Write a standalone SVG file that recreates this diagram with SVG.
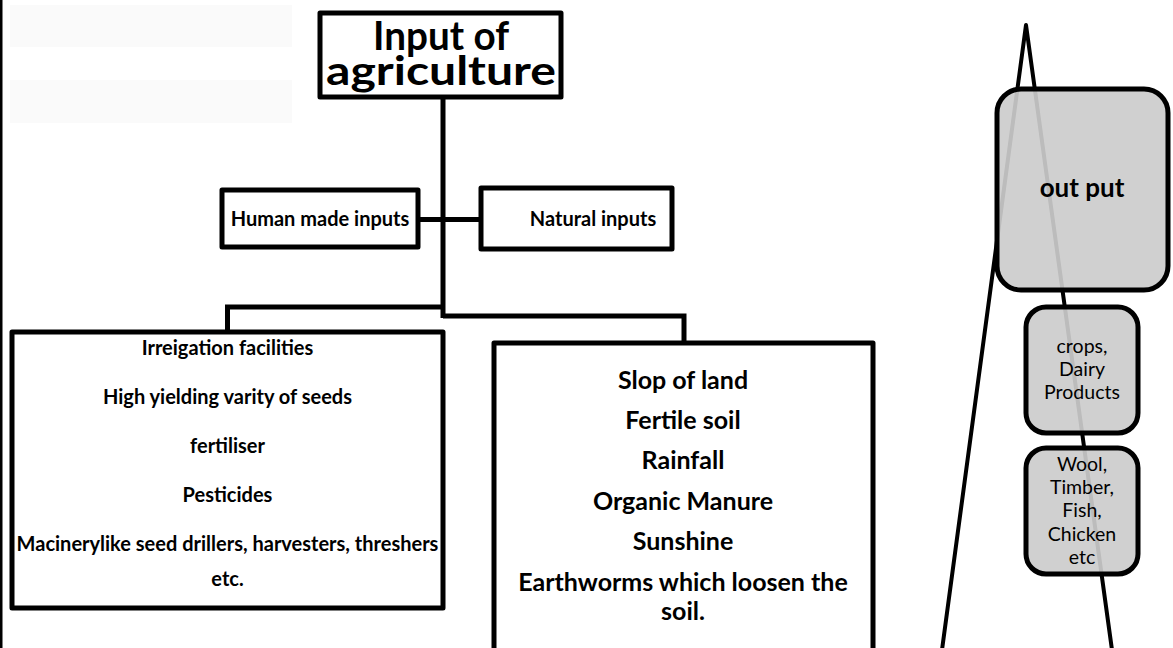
<svg xmlns="http://www.w3.org/2000/svg" width="1173" height="648" viewBox="0 0 1173 648">
<style>
.box{fill:#ffffff;stroke:#000;stroke-width:5;stroke-linejoin:round}
.gbox{fill:#cccccc;fill-opacity:0.92;stroke:#000;stroke-width:5}
.con{fill:none;stroke:#000;stroke-width:5;stroke-linejoin:miter}
.wedge{fill:none;stroke:#000;stroke-width:4;stroke-linejoin:round}
text{font-family:Lato,"Liberation Sans",sans-serif;fill:#000;text-anchor:middle}
.b{font-weight:bold}
</style>
<rect x="0" y="0" width="2.5" height="648" fill="#000"/>
<rect x="10" y="5" width="282" height="42" fill="#fafafa"/>
<rect x="10" y="80" width="282" height="43" fill="#fafafa"/>
<g id="wedge">
<polyline class="wedge" points="942,650 1026,25 1112,650"/>
</g>
<g id="connectors">
<line class="con" x1="443" y1="97" x2="443" y2="318"/>
<line class="con" x1="418" y1="219.5" x2="481" y2="219.5"/>
<polyline class="con" points="443,307 227.5,307 227.5,332"/>
<polyline class="con" points="443,316 684,316 684,343"/>
</g>
<g id="input">
<rect class="box" x="320" y="13" width="241" height="84"/>
<text class="b" x="441" y="50" font-size="41" textLength="136" lengthAdjust="spacingAndGlyphs">Input of</text>
<text class="b" x="441" y="85" font-size="41" textLength="230" lengthAdjust="spacingAndGlyphs">agriculture</text>
</g>
<g id="human">
<rect class="box" x="222" y="190" width="196" height="57"/>
<text class="b" x="320" y="226" font-size="20">Human made inputs</text>
</g>
<g id="natural">
<rect class="box" x="481" y="188" width="191" height="61"/>
<text class="b" x="593" y="226" font-size="20">Natural inputs</text>
</g>
<g id="human-list">
<rect class="box" x="12" y="332" width="431" height="276"/>
<g class="b" font-size="20">
<text x="227.5" y="355">Irreigation facilities</text>
<text x="227.5" y="404">High yielding varity of seeds</text>
<text x="227.5" y="453">fertiliser</text>
<text x="227.5" y="502">Pesticides</text>
<text x="227.5" y="551">Macinerylike seed drillers, harvesters, threshers</text>
<text x="227.5" y="586">etc.</text>
</g>
</g>
<g id="natural-list">
<rect class="box" x="494" y="343" width="379" height="320"/>
<g class="b" font-size="25">
<text x="683" y="389">Slop of land</text>
<text x="683" y="429">Fertile soil</text>
<text x="683" y="469">Rainfall</text>
<text x="683" y="510">Organic Manure</text>
<text x="683" y="550">Sunshine</text>
<text x="683" y="591">Earthworms which loosen the</text>
<text x="683" y="620">soil.</text>
</g>
</g>
<g id="output">
<rect class="gbox" x="997" y="89" width="171" height="201" rx="24"/>
<text class="b" x="1082" y="197" font-size="26">out put</text>
</g>
<g id="crops">
<rect class="gbox" x="1026" y="307" width="112" height="126" rx="20"/>
<g font-size="19.5">
<text x="1082" y="353">crops,</text>
<text x="1082" y="376">Dairy</text>
<text x="1082" y="399">Products</text>
</g>
</g>
<g id="wool">
<rect class="gbox" x="1026" y="448" width="112" height="126" rx="20"/>
<g font-size="19.5">
<text x="1082" y="471">Wool,</text>
<text x="1082" y="494">Timber,</text>
<text x="1082" y="517">Fish,</text>
<text x="1082" y="541">Chicken</text>
<text x="1082" y="564">etc</text>
</g>
</g>
</svg>
